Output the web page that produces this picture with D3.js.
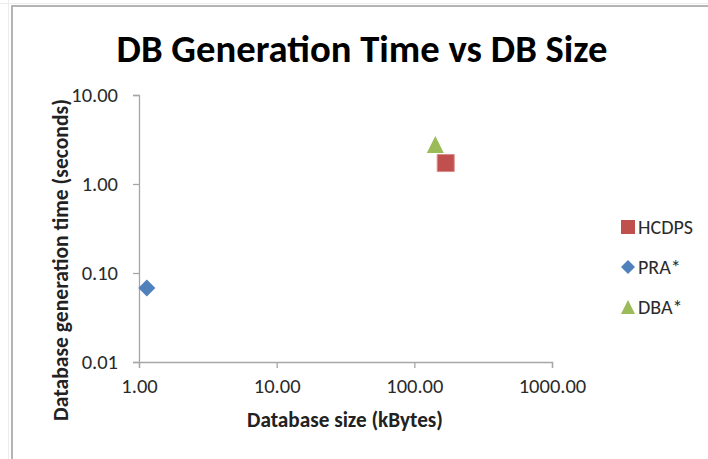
<!DOCTYPE html>
<html><head><meta charset="utf-8">
<script src="https://cdn.jsdelivr.net/npm/d3@7"></script>
<style>
html,body{margin:0;padding:0;background:#fff;}
svg{display:block;font-family:Carlito,Calibri,Lato,sans-serif;}
</style></head>
<body><svg id="c" width="708" height="459"></svg>
<script>
const seriesNames = ["HCDPS", "PRA*", "DBA*"];
const seriesColors = ["#C0504D", "#4F81BD", "#9BBB59"];
const seriesShapes = ["square", "diamond", "triangle"];
const sizeKB = [169, 1.14, 142];
const genTimeSec = [1.72, 0.068, 2.78];
const xTicks = [1, 10, 100, 1000];
const yTicks = [0.01, 0.1, 1, 10];
const title = "DB Generation Time vs DB Size";
const xLabel = "Database size (kBytes)";
const yLabel = "Database generation time (seconds)";

const svg = d3.select("#c");
const W = 708, H = 459;
const axisColor = "#a6a6a6";

// chart frame
svg.append("rect").attr("x", 0).attr("y", 0).attr("width", W).attr("height", H).attr("fill", "#fff");
svg.append("line").attr("x1", 8.5).attr("x2", 8.5).attr("y1", 0).attr("y2", H).attr("stroke", "#ececec");
svg.append("line").attr("x1", 0).attr("x2", W).attr("y1", 3.5).attr("y2", 3.5).attr("stroke", "#ececec");
svg.append("path").attr("d", `M12,${H}V6H${W}`).attr("fill", "none").attr("stroke", "#b4b4b4").attr("stroke-width", 2);

const x = d3.scaleLog().domain([1, 1000]).range([139, 552]);
const y = d3.scaleLog().domain([0.01, 10]).range([362, 95]);

function fitText(sel, width) {
  const n = sel.node();
  const fs = parseFloat(sel.attr("font-size"));
  const w = n.getComputedTextLength();
  sel.attr("font-size", (fs * width / w).toFixed(2));
}

// title
const t = svg.append("text").attr("x", 362).attr("y", 62).attr("text-anchor", "middle")
  .attr("font-weight", "bold").attr("font-size", 30).attr("fill", "#000").text(title);
fitText(t, 491);

// axes
const xAxis = svg.append("g").attr("transform", `translate(0,362)`)
  .call(d3.axisBottom(x).tickValues(xTicks).tickFormat(d3.format(".2f")).tickSize(6).tickPadding(10));
const yAxis = svg.append("g").attr("transform", `translate(139,0)`)
  .call(d3.axisLeft(y).tickValues(yTicks).tickFormat(d3.format(".2f")).tickSize(6).tickPadding(15));
[xAxis, yAxis].forEach(g => {
  g.selectAll("path,line").attr("stroke", axisColor).attr("stroke-width", 1.3);
  g.selectAll("text").attr("fill", "#2a2a2a").attr("font-size", 20.5).attr("font-family", "Carlito,Calibri,Lato,sans-serif");
});

// axis labels
const xl = svg.append("text").attr("x", 345).attr("y", 427).attr("text-anchor", "middle")
  .attr("font-weight", "bold").attr("font-size", 17).attr("fill", "#222").text(xLabel);
fitText(xl, 196);
const yl = svg.append("text").attr("transform", "translate(68,260) rotate(-90)").attr("text-anchor", "middle")
  .attr("font-weight", "bold").attr("font-size", 17).attr("fill", "#222").text(yLabel);
fitText(yl, 322);

function shapePath(shape, s) {
  const h = s / 2;
  if (shape === "square") return `M${-h},${-h}H${h}V${h}H${-h}Z`;
  if (shape === "diamond") return `M0,${-h}L${h},0L0,${h}L${-h},0Z`;
  return `M0,${-h}L${h},${h}H${-h}Z`;
}

// points
svg.append("g").selectAll("path").data(seriesNames).join("path")
  .attr("transform", (d, i) => `translate(${x(sizeKB[i])},${y(genTimeSec[i])})`)
  .attr("d", (d, i) => shapePath(seriesShapes[i], 17))
  .attr("fill", (d, i) => seriesColors[i])
  .attr("stroke", (d, i) => seriesShapes[i] === "square" ? "#d98c8a" : "none")
  .attr("stroke-width", 1);

// legend
const lg = svg.append("g").selectAll("g").data(seriesNames).join("g")
  .attr("transform", (d, i) => `translate(628,${227 + i * 40})`);
lg.append("path").attr("d", (d, i) => shapePath(seriesShapes[i], 14))
  .attr("fill", (d, i) => seriesColors[i]);
lg.append("text").attr("x", 10).attr("dy", "0.35em").attr("font-size", 20).attr("fill", "#2a2a2a").text(d => d);
</script></body></html>
